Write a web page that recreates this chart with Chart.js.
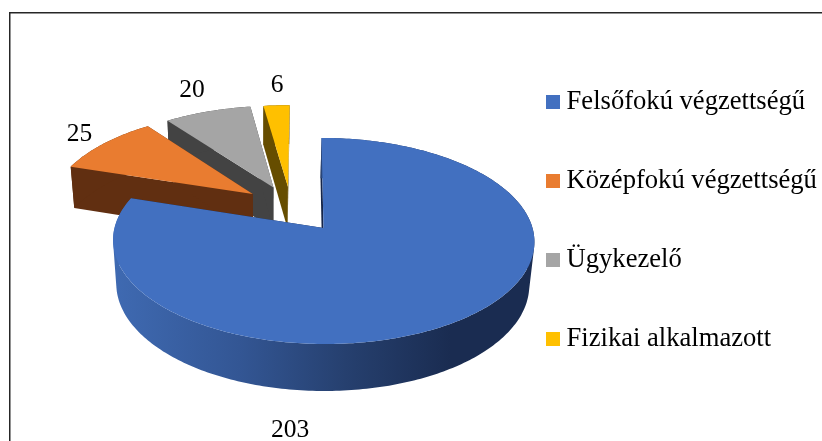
<!DOCTYPE html>
<html>
<head>
<meta charset="utf-8">
<style>html,body{margin:0;padding:0;background:#fff}canvas{display:block}</style>
<script src="https://cdn.jsdelivr.net/npm/chart.js@4"></script>
</head>
<body>
<canvas id="c" width="822" height="441"></canvas>
<script>
const categories = ["Felsőfokú végzettségű", "Középfokú végzettségű", "Ügykezelő", "Fizikai alkalmazott"];
const values = [203, 25, 20, 6];
const topColors = ["#4270C0", "#E97C30", "#A5A5A5", "#FFC000"];
const wallColors = ["#2A4779", "#612F11", "#434343", "#664D00"];
// exploded offset of each slice on the unit disc (u right, v towards viewer)
const shiftU = [0, -0.35, -0.248, -0.175];
const shiftV = [0, -0.35, -0.42, -0.43];
const labelX = [290, 79.5, 192, 277];
const labelY = [437, 141, 97, 92];

const serif = '"Liberation Serif", "Times New Roman", serif';
const cam = {x0: 323.5, y0: 228, R: 209, a: 101.4, b: 0.126, c: 0.02, d: 44.3, shear: 2};

function project(u, v, z) {
  const w = 1 - cam.b * v + cam.c * z;
  return [cam.x0 + cam.R * u / w + cam.shear * v - z, cam.y0 + (cam.a * v + cam.d * z) / w];
}
function trace(ctx, pts) {
  ctx.beginPath();
  pts.forEach((p, i) => i ? ctx.lineTo(p[0], p[1]) : ctx.moveTo(p[0], p[1]));
  ctx.closePath();
}
function area(pts) {
  let s = 0;
  pts.forEach((p, i) => { const q = pts[(i + 1) % pts.length]; s += p[0] * q[1] - q[0] * p[1]; });
  return s;
}
function rim(a0, a1, du, dv, z) {
  const n = Math.max(8, Math.ceil((a1 - a0) * 60)), out = [];
  for (let i = 0; i <= n; i++) {
    const t = a0 + (a1 - a0) * i / n;
    out.push(project(du + Math.cos(t), dv + Math.sin(t), z));
  }
  return out;
}
function sideSquare(color) {
  const s = document.createElement('canvas');
  s.width = 14; s.height = 14;
  const g = s.getContext('2d');
  g.fillStyle = color; g.fillRect(0, 0, 14, 14);
  return s;
}

const pie3d = {
  id: 'pie3d',
  afterLayout(chart) {
    const lg = chart.legend;
    lg.left = 552.75 - lg.options.labels.padding;
    lg.top = 88.7 - lg.options.labels.padding;
  },
  beforeDraw(chart) {
    const ctx = chart.ctx;
    ctx.save();
    ctx.strokeStyle = '#262626';
    ctx.lineWidth = 1.5;
    ctx.beginPath();
    ctx.moveTo(9.75, 441); ctx.lineTo(9.75, 12.75); ctx.lineTo(822, 12.75);
    ctx.stroke();
    ctx.restore();
  },
  beforeDatasetDraw(chart, args) {
    const ctx = chart.ctx;
    const arcs = args.meta.data;
    ctx.save();
    for (let i = arcs.length - 1; i >= 0; i--) {
      const {startAngle, endAngle} = arcs[i].getProps(['startAngle', 'endAngle'], true);
      const du = shiftU[i], dv = shiftV[i];
      const top = rim(startAngle, endAngle, du, dv, 0);
      const bot = rim(startAngle, endAngle, du, dv, 1);
      const apexTop = project(du, dv, 0), apexBot = project(du, dv, 1);
      ctx.fillStyle = i === 0 ? '#16264A' : wallColors[i];
      trace(ctx, [apexTop, top[0], bot[0], apexBot]);
      ctx.fill();
      trace(ctx, [apexTop, top[top.length - 1], bot[bot.length - 1], apexBot]);
      ctx.fill();
      if (i === 0) {
        const g = ctx.createLinearGradient(113, 0, 535, 0);
        g.addColorStop(0, '#3F6AB2');
        g.addColorStop(0.3, '#335694');
        g.addColorStop(0.55, '#26406F');
        g.addColorStop(0.8, '#1A2C51');
        g.addColorStop(1, '#1A2C51');
        ctx.fillStyle = g;
      }
      // every strip of the curved wall goes into one path with the same winding, so the fill has no seams
      ctx.beginPath();
      for (let k = 0; k < top.length - 1; k++) {
        let q = [top[k], top[k + 1], bot[k + 1], bot[k]];
        if (area(q) < 0) q = q.reverse();
        q.forEach((p, j) => j ? ctx.lineTo(p[0], p[1]) : ctx.moveTo(p[0], p[1]));
        ctx.closePath();
      }
      ctx.fill('nonzero');
      ctx.fillStyle = arcs[i].options.backgroundColor;
      trace(ctx, [apexTop].concat(top));
      ctx.fill();
    }
    ctx.restore();
    return false;
  },
  afterDatasetsDraw(chart) {
    const ctx = chart.ctx;
    ctx.save();
    ctx.fillStyle = '#000';
    ctx.font = '25.5px ' + serif;
    ctx.textAlign = 'center';
    ctx.textBaseline = 'alphabetic';
    values.forEach((v, i) => ctx.fillText(String(v), labelX[i], labelY[i]));
    ctx.restore();
  }
};

const squares = topColors.map(sideSquare);

new Chart(document.getElementById('c'), {
  type: 'pie',
  data: {
    labels: categories,
    datasets: [{data: values, backgroundColor: topColors, borderWidth: 0}]
  },
  options: {
    responsive: false,
    animation: false,
    events: [],
    plugins: {
      tooltip: {enabled: false},
      legend: {
        display: true,
        position: 'right',
        align: 'start',
        labels: {
          font: {family: serif, size: 26.6},
          color: '#000',
          padding: 52.4,
          usePointStyle: true,
          pointStyleWidth: 0.5,
          generateLabels(chart) {
            return categories.map((t, i) => ({
              text: t, fillStyle: topColors[i], strokeStyle: topColors[i],
              lineWidth: 0, pointStyle: squares[i], index: i, hidden: false
            }));
          }
        }
      }
    }
  },
  plugins: [pie3d]
});
</script>
</body>
</html>
